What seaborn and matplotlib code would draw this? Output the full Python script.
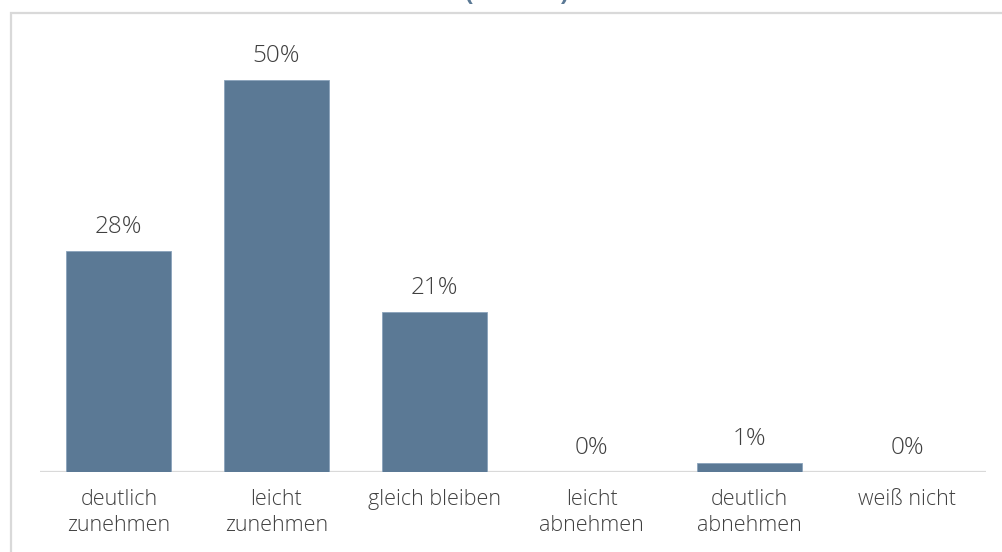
import matplotlib
matplotlib.use("Agg")
import matplotlib.pyplot as plt
from matplotlib.patches import Rectangle
import seaborn as sns
import pandas as pd

# Daten
kategorien = ["deutlich\nzunehmen", "leicht\nzunehmen", "gleich bleiben",
              "leicht\nabnehmen", "deutlich\nabnehmen", "weiß nicht"]
anteile = [28.2, 50.0, 20.4, 0.0, 1.2, 0.0]
beschriftungen = ["28%", "50%", "21%", "0%", "1%", "0%"]
titel = "(n = 100)"

df = pd.DataFrame({"kategorie": kategorien, "anteil": anteile})

sns.set_theme(style="white")
plt.rcParams["font.family"] = ["Open Sans", "DejaVu Sans"]

balken_farbe = "#5b7995"
text_farbe = "#404040"
rahmen_farbe = "#d9d9d9"

fig = plt.figure(figsize=(10.03, 5.52), dpi=100)
ax = fig.add_axes([40 / 1003, 80 / 552, 946 / 1003, 460 / 552])

sns.barplot(data=df, x="kategorie", y="anteil", color=balken_farbe,
            saturation=1, width=0.667, edgecolor="#8aa3bb", linewidth=0.6,
            ax=ax)

for i, (wert, txt) in enumerate(zip(anteile, beschriftungen)):
    ax.annotate(txt, (i, wert), xytext=(0, 13), textcoords="offset points",
                ha="center", va="baseline", fontsize=17.5, fontweight="light",
                color=text_farbe)

ax.set_xlim(-0.5, 5.5)
ax.set_ylim(0, 58.7)
ax.axhline(0, color=rahmen_farbe, lw=1.6, zorder=0)
for s in ax.spines.values():
    s.set_visible(False)
ax.set_yticks([])
ax.set_xlabel("")
ax.set_ylabel("")
ax.tick_params(axis="x", length=0, pad=12.5, labelsize=15.5, labelcolor=text_farbe)
for lab in ax.get_xticklabels():
    lab.set_linespacing(1.3)
    lab.set_fontweight("light")

# äußerer Rahmen (angeschnitten)
fig.patches.append(Rectangle((10.5 / 1003, -0.1), 1.2, 1.1 - 12.5 / 552,
                             transform=fig.transFigure, fill=False,
                             edgecolor=rahmen_farbe, lw=1.6))

# Titel, oben abgeschnitten
fig.text(517 / 1003, 1.0, titel, ha="center", va="baseline",
         fontsize=18, fontweight="bold", color=balken_farbe)

fig.savefig("out.png", dpi=100)
